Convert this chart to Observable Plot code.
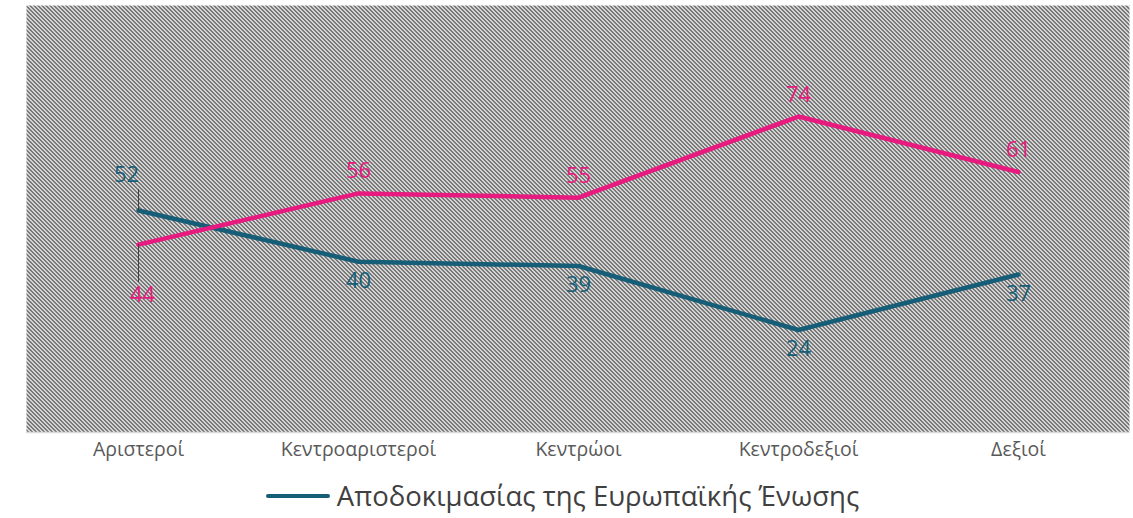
<!DOCTYPE html>
<html>
<head>
<meta charset="utf-8">
<script src="https://cdn.jsdelivr.net/npm/d3@7"></script>
<script src="https://cdn.jsdelivr.net/npm/@observablehq/plot@0.6"></script>
<style>
  body { margin: 0; background: #fff; font-family: "Open Sans", sans-serif; }
  #chart svg { display: block; }
  #legend { display: flex; align-items: center; justify-content: center; height: 48px; padding-right: 8px; padding-top: 2px; }
  #legend .swatch { width: 64px; height: 4px; border-radius: 2px; margin-right: 7px; }
  #legend .label { font-size: 27.5px; color: #404040; line-height: 1; }
</style>
</head>
<body>
<svg width="0" height="0" style="position:absolute">
  <defs>
    <pattern id="hatch" width="4" height="4" patternUnits="userSpaceOnUse">
      <rect x="0" y="0" width="4" height="4" fill="#ffffff"/>
      <rect x="0" y="0" width="1" height="1" fill="#333333"/>
      <rect x="1" y="1" width="1" height="1" fill="#333333"/>
      <rect x="2" y="2" width="1" height="1" fill="#333333"/>
      <rect x="3" y="3" width="1" height="1" fill="#333333"/>
      <rect x="1" y="0" width="1" height="1" fill="#666666"/>
      <rect x="2" y="1" width="1" height="1" fill="#666666"/>
      <rect x="3" y="2" width="1" height="1" fill="#666666"/>
      <rect x="0" y="3" width="1" height="1" fill="#666666"/>
    </pattern>
  </defs>
</svg>
<div id="chart"></div>
<div id="legend"></div>
<script>
// ---- data ----
const categories = ["Αριστεροί", "Κεντροαριστεροί", "Κεντρώοι", "Κεντροδεξιοί", "Δεξιοί"];
const rejectionName = "Αποδοκιμασίας της Ευρωπαϊκής Ένωσης";
const rejectionValues = [52, 40, 39, 24, 37];
const approvalName = "Επιδοκιμασίας";
const approvalValues = [44, 56, 55, 74, 61];
const seriesColors = ["#165e77", "#e8197f"];

// ---- build table ----
const rows = [];
categories.forEach((c, i) => {
  const r = rejectionValues[i], a = approvalValues[i];
  rows.push({cat: c, i, v: r, s: rejectionName, above: r >= a});
  rows.push({cat: c, i, v: a, s: approvalName, above: a > r});
});
const rej = rows.filter(d => d.s === rejectionName);
const app = rows.filter(d => d.s === approvalName);

const leaderShape = {
  draw(context, l) { context.moveTo(0, 0); context.lineTo(0, -l); }
};

const chart = Plot.plot({
  width: 1133,
  height: 470,
  marginLeft: 26,
  marginRight: 4,
  marginTop: 5,
  marginBottom: 38,
  style: {fontFamily: "Open Sans", fontSize: "19.5px", color: "#595959", background: "transparent"},
  x: {type: "point", domain: categories, padding: 0.5, tickSize: 0, tickPadding: 10, label: null},
  y: {domain: [0, 100], axis: null},
  color: {domain: [rejectionName, approvalName], range: seriesColors},
  marks: [
    Plot.frame({fill: "url(#hatch)", stroke: null}),
    Plot.ruleY([0], {stroke: "#d9d9d9", strokeWidth: 1.5}),
    Plot.line(rej, {x: "cat", y: "v", stroke: "s", strokeWidth: 4.5, strokeLinejoin: "round"}),
    Plot.line(app, {x: "cat", y: "v", stroke: "s", strokeWidth: 4.5, strokeLinejoin: "round"}),
    // leader lines for the first category
    Plot.vector(rows.filter(d => d.i === 0 && d.above), {x: "cat", y: "v", length: 21, rotate: 0, anchor: "start", shape: leaderShape, stroke: "#404040", strokeWidth: 1}),
    Plot.vector(rows.filter(d => d.i === 0 && !d.above), {x: "cat", y: "v", length: 37, rotate: 180, anchor: "start", shape: leaderShape, stroke: "#404040", strokeWidth: 1}),
    // data labels
    Plot.text(rows.filter(d => d.i > 0 && d.above), {x: "cat", y: "v", text: "v", fill: "s", fontSize: 22, dy: -22}),
    Plot.text(rows.filter(d => d.i > 0 && !d.above), {x: "cat", y: "v", text: "v", fill: "s", fontSize: 22, dy: 19}),
    Plot.text(rows.filter(d => d.i === 0 && d.above), {x: "cat", y: "v", text: "v", fill: "s", fontSize: 22, dx: -12, dy: -36}),
    Plot.text(rows.filter(d => d.i === 0 && !d.above), {x: "cat", y: "v", text: "v", fill: "s", fontSize: 22, dx: 4, dy: 50})
  ]
});
document.getElementById("chart").appendChild(chart);

// ---- legend (only the rejection series is listed) ----
const legend = document.getElementById("legend");
const sw = document.createElement("div");
sw.className = "swatch";
sw.style.background = seriesColors[0];
const lb = document.createElement("div");
lb.className = "label";
lb.textContent = rejectionName;
legend.appendChild(sw);
legend.appendChild(lb);
</script>
</body>
</html>
